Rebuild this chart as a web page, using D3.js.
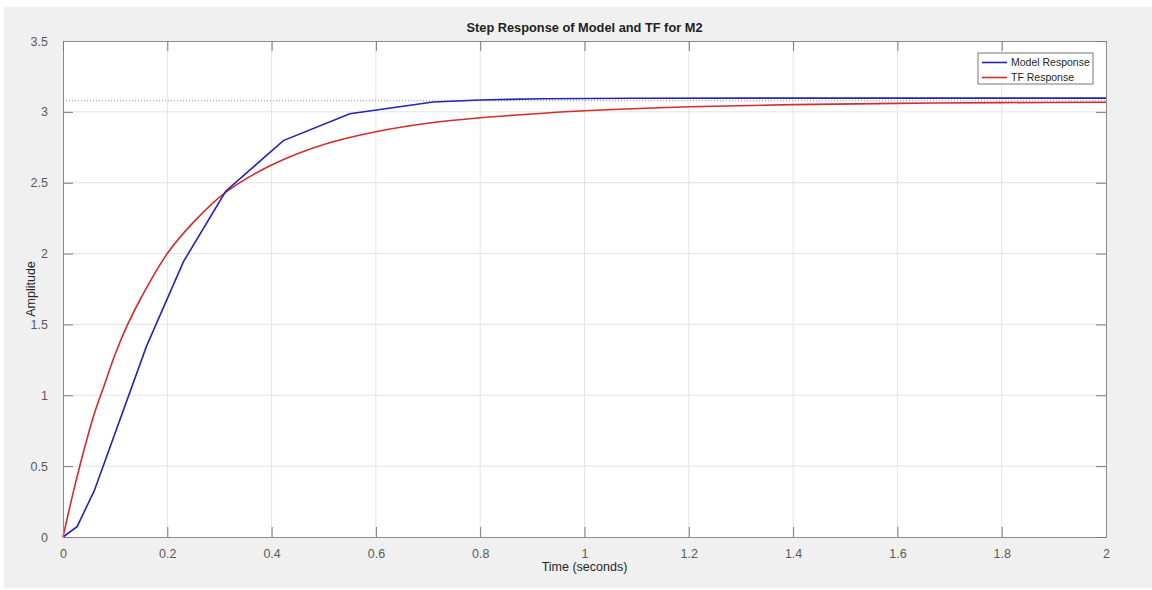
<!DOCTYPE html>
<html>
<head>
<meta charset="utf-8">
<script src="https://cdn.jsdelivr.net/npm/d3@7"></script>
<style>
  body { margin: 0; background: #fff; }
  text { font-family: "Liberation Sans", Arial, sans-serif; }
</style>
</head>
<body>
<div class="chart"></div>
<script>
// values
const modelTime = [0, 0.027, 0.060, 0.160, 0.231, 0.312, 0.4225, 0.550, 0.710, 0.80, 0.92, 1.1, 1.5, 2.0];
const modelAmp  = [0, 0.073, 0.327, 1.345, 1.943, 2.44, 2.797, 2.987, 3.070, 3.084, 3.093, 3.096, 3.097, 3.097];

const tfTime = [0, 0.02, 0.04, 0.06, 0.08, 0.1, 0.124, 0.15, 0.2, 0.25, 0.311, 0.4, 0.5, 0.6, 0.71, 0.8, 0.9, 1.0, 1.2, 1.4, 1.6, 1.8, 2.0];
const tfAmp  = [0, 0.32, 0.61, 0.87, 1.08, 1.29, 1.5, 1.69, 2.0, 2.22, 2.43, 2.625, 2.77, 2.86, 2.925, 2.958, 2.985, 3.008, 3.036, 3.051, 3.06, 3.065, 3.068];

const steadyState = 3.078;
const xTicks = [0, 0.2, 0.4, 0.6, 0.8, 1, 1.2, 1.4, 1.6, 1.8, 2];
const yTicks = [0, 0.5, 1, 1.5, 2, 2.5, 3, 3.5];
const seriesNames = ["Model Response", "TF Response"];
const seriesColors = ["#2424b4", "#d42c2c"];

const W = 1152, H = 590;
const margin = {top: 41, right: 46, bottom: 53, left: 63};
const width = W - margin.left - margin.right;
const height = H - margin.top - margin.bottom;

const root = d3.select(".chart").append("svg")
    .attr("width", W)
    .attr("height", H);

root.append("rect")
    .attr("x", 4).attr("y", 7)
    .attr("width", W - 4).attr("height", 581)
    .attr("fill", "#f0f0f0");

const svg = root.append("g")
    .attr("transform", `translate(${margin.left},${margin.top})`);

let xScale = d3.scaleLinear().domain([0, 2]).range([0, width]);
let yScale = d3.scaleLinear().domain([0, 3.5]).range([height, 0]);

svg.append("rect")
    .attr("width", width).attr("height", height)
    .attr("fill", "#fff");

// grid
svg.append("g").selectAll("line")
    .data(xTicks.slice(1, -1))
    .enter().append("line")
    .attr("x1", d => xScale(d)).attr("x2", d => xScale(d))
    .attr("y1", 0).attr("y2", height)
    .attr("stroke", "#e3e3e3");

svg.append("g").selectAll("line")
    .data(yTicks.slice(1, -1))
    .enter().append("line")
    .attr("x1", 0).attr("x2", width)
    .attr("y1", d => yScale(d)).attr("y2", d => yScale(d))
    .attr("stroke", "#e3e3e3");

// steady state dotted line
svg.append("line")
    .attr("x1", 0).attr("x2", width)
    .attr("y1", yScale(steadyState)).attr("y2", yScale(steadyState))
    .attr("stroke", "#8a8a8a")
    .attr("stroke-width", 1)
    .attr("stroke-dasharray", "1,2");

const line = d3.line()
    .x(d => xScale(d[0]))
    .y(d => yScale(d[1]));

const smoothLine = d3.line()
    .curve(d3.curveCatmullRom.alpha(0.5))
    .x(d => xScale(d[0]))
    .y(d => yScale(d[1]));

svg.append("path")
    .datum(tfTime.map((t, i) => [t, tfAmp[i]]))
    .attr("d", smoothLine)
    .attr("fill", "none")
    .attr("stroke", seriesColors[1])
    .attr("stroke-width", 1.6);

svg.append("path")
    .datum(modelTime.map((t, i) => [t, modelAmp[i]]))
    .attr("d", line)
    .attr("fill", "none")
    .attr("stroke", seriesColors[0])
    .attr("stroke-width", 1.6);

// axes, ticks pointing inward like matlab
const tickLen = 10;
let xAxis = d3.axisBottom(xScale).tickValues(xTicks).tickSize(-tickLen).tickPadding(12).tickFormat(d3.format("~g"));
let yAxis = d3.axisLeft(yScale).tickValues(yTicks).tickSize(-tickLen).tickPadding(15).tickFormat(d3.format("~g"));
let xTop = d3.axisTop(xScale).tickValues(xTicks).tickSize(-tickLen).tickFormat("");
let yRight = d3.axisRight(yScale).tickValues(yTicks).tickSize(-tickLen).tickFormat("");

function styleAxis(g){
    g.select(".domain").attr("stroke", "#8c8c8c");
    g.selectAll(".tick line").attr("stroke", "#7a7a7a");
    g.selectAll(".tick text")
        .attr("fill", "#5a5a5a")
        .style("font-size", "12.5px")
        .style("font-family", "'Liberation Sans', Arial, sans-serif");
}

svg.append("g").attr("class", "axis x-axis")
    .attr("transform", `translate(0,${height})`)
    .call(xAxis).call(styleAxis);
svg.append("g").attr("class", "axis y-axis")
    .call(yAxis).call(styleAxis);
svg.append("g").call(xTop).call(styleAxis);
svg.append("g").attr("transform", `translate(${width},0)`)
    .call(yRight).call(styleAxis);

// titles
svg.append("text")
    .attr("x", width / 2).attr("y", -9)
    .attr("text-anchor", "middle")
    .attr("font-weight", "bold")
    .attr("font-size", "12.8px")
    .attr("fill", "#222")
    .text("Step Response of Model and TF for M2");

svg.append("text")
    .attr("x", width / 2).attr("y", height + 34)
    .attr("text-anchor", "middle")
    .attr("font-size", "12.5px")
    .attr("fill", "#262626")
    .text("Time (seconds)");

svg.append("text")
    .attr("transform", `translate(${35 - margin.left},${yScale(1.75)}) rotate(-90)`)
    .attr("text-anchor", "middle")
    .attr("font-size", "12.5px")
    .attr("fill", "#262626")
    .text("Amplitude");

// legend
const legend = svg.append("g")
    .attr("transform", `translate(${978 - margin.left},${53 - margin.top})`);
legend.append("rect")
    .attr("width", 115).attr("height", 31)
    .attr("fill", "#fff")
    .attr("stroke", "#777");
seriesNames.forEach((name, i) => {
    const y = 9.5 + i * 15;
    legend.append("line")
        .attr("x1", 4).attr("x2", 29)
        .attr("y1", y).attr("y2", y)
        .attr("stroke", seriesColors[i])
        .attr("stroke-width", 1.6);
    legend.append("text")
        .attr("x", 33).attr("y", y + 3.5)
        .attr("font-size", "10.5px")
        .attr("fill", "#262626")
        .text(name);
});
</script>
</body>
</html>
